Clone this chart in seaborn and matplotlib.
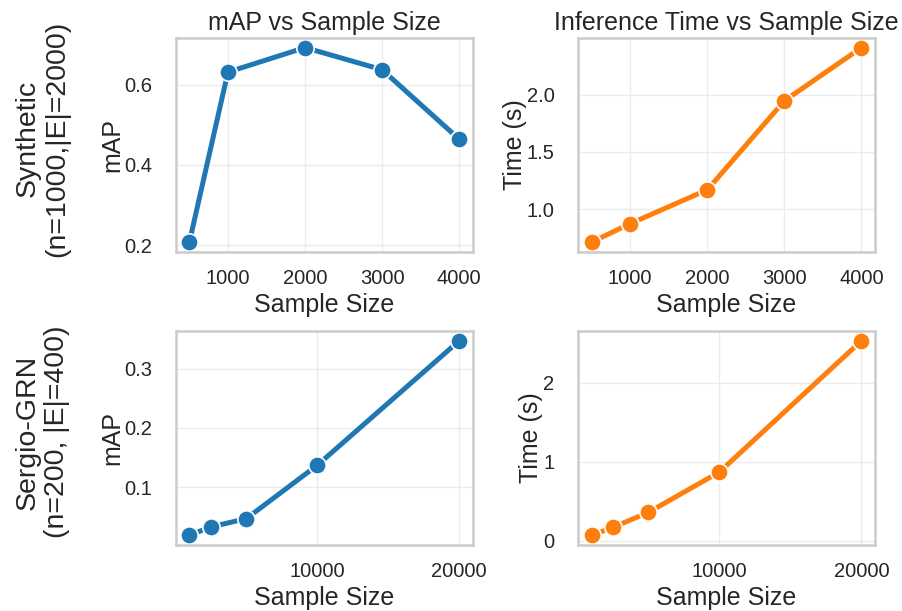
import matplotlib
matplotlib.use("Agg")
import matplotlib.pyplot as plt
import pandas as pd
import seaborn as sns

# synthetic dataset (n=1000, |E|=2000)
syn_sizes = [500, 1000, 2000, 3000, 4000]
syn_map = [0.208, 0.631, 0.692, 0.637, 0.464]
syn_time = [0.714, 0.875, 1.17, 1.946, 2.41]

# Sergio-GRN dataset (n=200, |E|=400)
ser_sizes = [1000, 2500, 5000, 10000, 20000]
ser_map = [0.019, 0.033, 0.047, 0.137, 0.347]
ser_time = [0.07, 0.17, 0.36, 0.87, 2.53]

row_labels = ["Synthetic\n(n=1000,|E|=2000)", "Sergio-GRN\n(n=200, |E|=400)"]

sns.set_theme(style="whitegrid")
plt.rcParams['font.family'] = ['Liberation Sans', 'DejaVu Sans']
plt.rcParams['axes.edgecolor'] = '#cccccc'
plt.rcParams['axes.linewidth'] = 1.8
plt.rcParams['grid.color'] = '#ebebeb'

blue = '#1f77b4'
orange = '#ff7f0e'

fig, axes = plt.subplots(2, 2, figsize=(9.02, 6.11), dpi=100)
fig.subplots_adjust(left=0.195, right=0.97, top=0.938, bottom=0.108, wspace=0.355, hspace=0.37)

rows = [
    (syn_sizes, syn_map, syn_time),
    (ser_sizes, ser_map, ser_time),
]

for i, (sizes, maps, times) in enumerate(rows):
    df = pd.DataFrame({'size': sizes, 'map': maps, 'time': times})
    ax = axes[i, 0]
    sns.lineplot(data=df, x='size', y='map', marker='o', color=blue, linewidth=3.6,
                 markersize=12.5, markeredgecolor='white', markeredgewidth=1.2, ax=ax)
    ax.set_xlabel('Sample Size', fontsize=18)
    ax.set_ylabel('mAP', fontsize=18, labelpad=0)

    ax = axes[i, 1]
    sns.lineplot(data=df, x='size', y='time', marker='o', color=orange, linewidth=3.6,
                 markersize=12.5, markeredgecolor='white', markeredgewidth=1.2, ax=ax)
    ax.set_xlabel('Sample Size', fontsize=18)
    ax.set_ylabel('Time (s)', fontsize=18, labelpad=0)

for ax in axes.flat:
    ax.tick_params(labelsize=14.5)
    ax.tick_params(axis='y', pad=11)
    ax.tick_params(axis='x', pad=6)

axes[0, 0].set_title('mAP vs Sample Size', fontsize=18)
axes[0, 1].set_title('Inference Time vs Sample Size', fontsize=18)

axes[0, 0].set_xticks([1000, 2000, 3000, 4000])
axes[0, 1].set_xticks([1000, 2000, 3000, 4000])
axes[0, 0].set_yticks([0.2, 0.4, 0.6])
axes[0, 1].set_yticks([1.0, 1.5, 2.0])
axes[1, 0].set_xticks([10000, 20000])
axes[1, 1].set_xticks([10000, 20000])
axes[1, 0].set_yticks([0.1, 0.2, 0.3])
axes[1, 1].set_yticks([0, 1, 2])

for i, lab in enumerate(row_labels):
    pos = axes[i, 0].get_position()
    fig.text(0.047, (pos.y0 + pos.y1) / 2 + 0.01, lab, rotation=90, ha='center', va='center',
             fontsize=20.5, multialignment='center')

plt.savefig('out.png', dpi=100)
